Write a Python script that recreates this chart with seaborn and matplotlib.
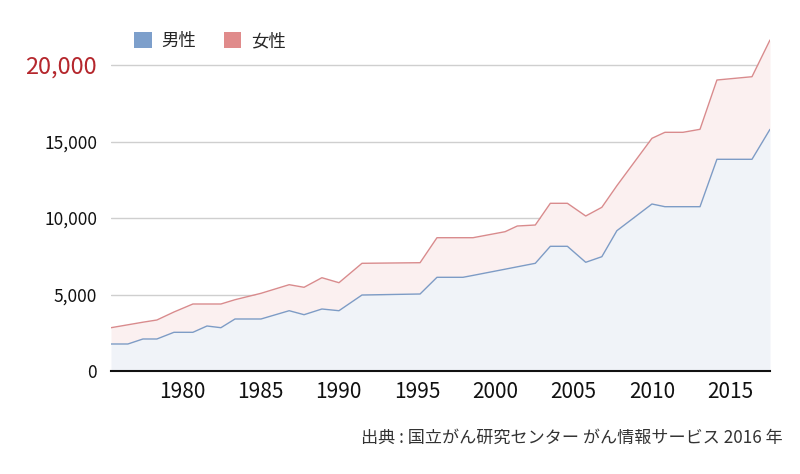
import pandas as pd
import matplotlib
matplotlib.use("Agg")
import matplotlib.pyplot as plt
from matplotlib.patches import Patch
import seaborn as sns

# ------------- DATOS -------------
# years (decimal positions)
years = [1975.45, 1976.53, 1977.49, 1978.38, 1979.47, 1980.68, 1981.58, 1982.47,
         1983.37, 1985.03, 1986.83, 1987.78, 1988.92, 1990.01, 1991.48, 1995.19,
         1996.27, 1997.93, 1998.57, 2000.62, 2001.40, 2002.55, 2003.51, 2004.60,
         2005.77, 2006.80, 2007.76, 2010.00, 2010.83, 2011.98, 2013.07, 2014.15,
         2016.39, 2017.54]
# male counts
male = [1765, 1765, 2092, 2092, 2529, 2529, 2941, 2830,
        3399, 3399, 3941, 3680, 4052, 3941, 4967, 5033,
        6124, 6124, 6248, 6654, 6810, 7039, 8150, 8150,
        7105, 7471, 9170, 10915, 10739, 10739, 10739, 13837,
        13837, 15797]
# total (male + female)
total = [2830, 3020, 3190, 3333, 3856, 4379, 4379, 4379,
         4660, 5078, 5641, 5471, 6098, 5771, 7039, 7078,
         8712, 8712, 8712, 9105, 9477, 9542, 10961, 10961,
         10131, 10699, 12111, 15209, 15601, 15601, 15797, 19020,
         19235, 21634]
female = [t - m for t, m in zip(total, male)]

labels = ["男性", "女性"]
yticks = [0, 5000, 10000, 15000, 20000]
xticks = [1980, 1985, 1990, 1995, 2000, 2005, 2010, 2015]
fuente = "出典 : 国立がん研究センター がん情報サービス 2016 年"

df = pd.DataFrame({"year": years, "male": male, "female": female})
df["total"] = df["male"] + df["female"]

# ------------- ESTILO -------------
sns.set_style("white")
plt.rcParams["font.family"] = ["Noto Sans CJK JP", "DejaVu Sans"]

c_male_line = "#7d9cc6"
c_male_fill = "#f0f3f8"
c_fem_line = "#d98b8d"
c_fem_fill = "#fbf0f0"
c_red = "#b5272d"

fig = plt.figure(figsize=(8, 4.74), dpi=100)
ax = fig.add_axes([0.13875, 0.2173, 0.82375, 0.7101])

# rellenos apilados
ax.fill_between(df["year"], 0, df["male"], color=c_male_fill, lw=0)
ax.fill_between(df["year"], df["male"], df["total"], color=c_fem_fill, lw=0)

# lineas
sns.lineplot(data=df, x="year", y="male", ax=ax, color=c_male_line, lw=1, sort=False)
sns.lineplot(data=df, x="year", y="total", ax=ax, color=c_fem_line, lw=1, sort=False)

ax.set_xlim(years[0], years[-1])
ax.set_ylim(0, 22000)

# ejes
ax.set_yticks(yticks)
ax.set_yticklabels([f"{v:,}" for v in yticks], fontsize=12.5, color="#111111")
ax.get_yticklabels()[-1].set_color(c_red)
ax.get_yticklabels()[-1].set_fontsize(17)
ax.tick_params(axis="y", length=0, pad=10)

ax.set_xticks(xticks)
ax.set_xticklabels([str(v) for v in xticks], fontsize=15, color="#111111")
ax.tick_params(axis="x", direction="in", length=10, width=1, color="#c8c8c8", pad=7)

for v in yticks[1:]:
    ax.axhline(v, color="#cfcfcf", lw=1, zorder=0)

for s in ["top", "right", "left"]:
    ax.spines[s].set_visible(False)
ax.spines["bottom"].set_color("#111111")
ax.spines["bottom"].set_linewidth(1.5)
ax.set_xlabel("")
ax.set_ylabel("")

# leyenda
handles = [Patch(facecolor="#7d9fcb", edgecolor="none"),
           Patch(facecolor="#e08b8b", edgecolor="none")]
fig.legend(handles, labels, loc="center left", bbox_to_anchor=(0.168, 1 - 41 / 474),
           ncol=2, frameon=False, fontsize=12.5, handlelength=1.0, handleheight=1.0,
           handletextpad=0.55, columnspacing=1.6, borderaxespad=0, borderpad=0)

# fuente
fig.text(783 / 800, 1 - 438 / 474, fuente, ha="right", va="center",
         fontsize=12.3, color="#333333")

plt.savefig("out.png", dpi=100)
plt.close()
